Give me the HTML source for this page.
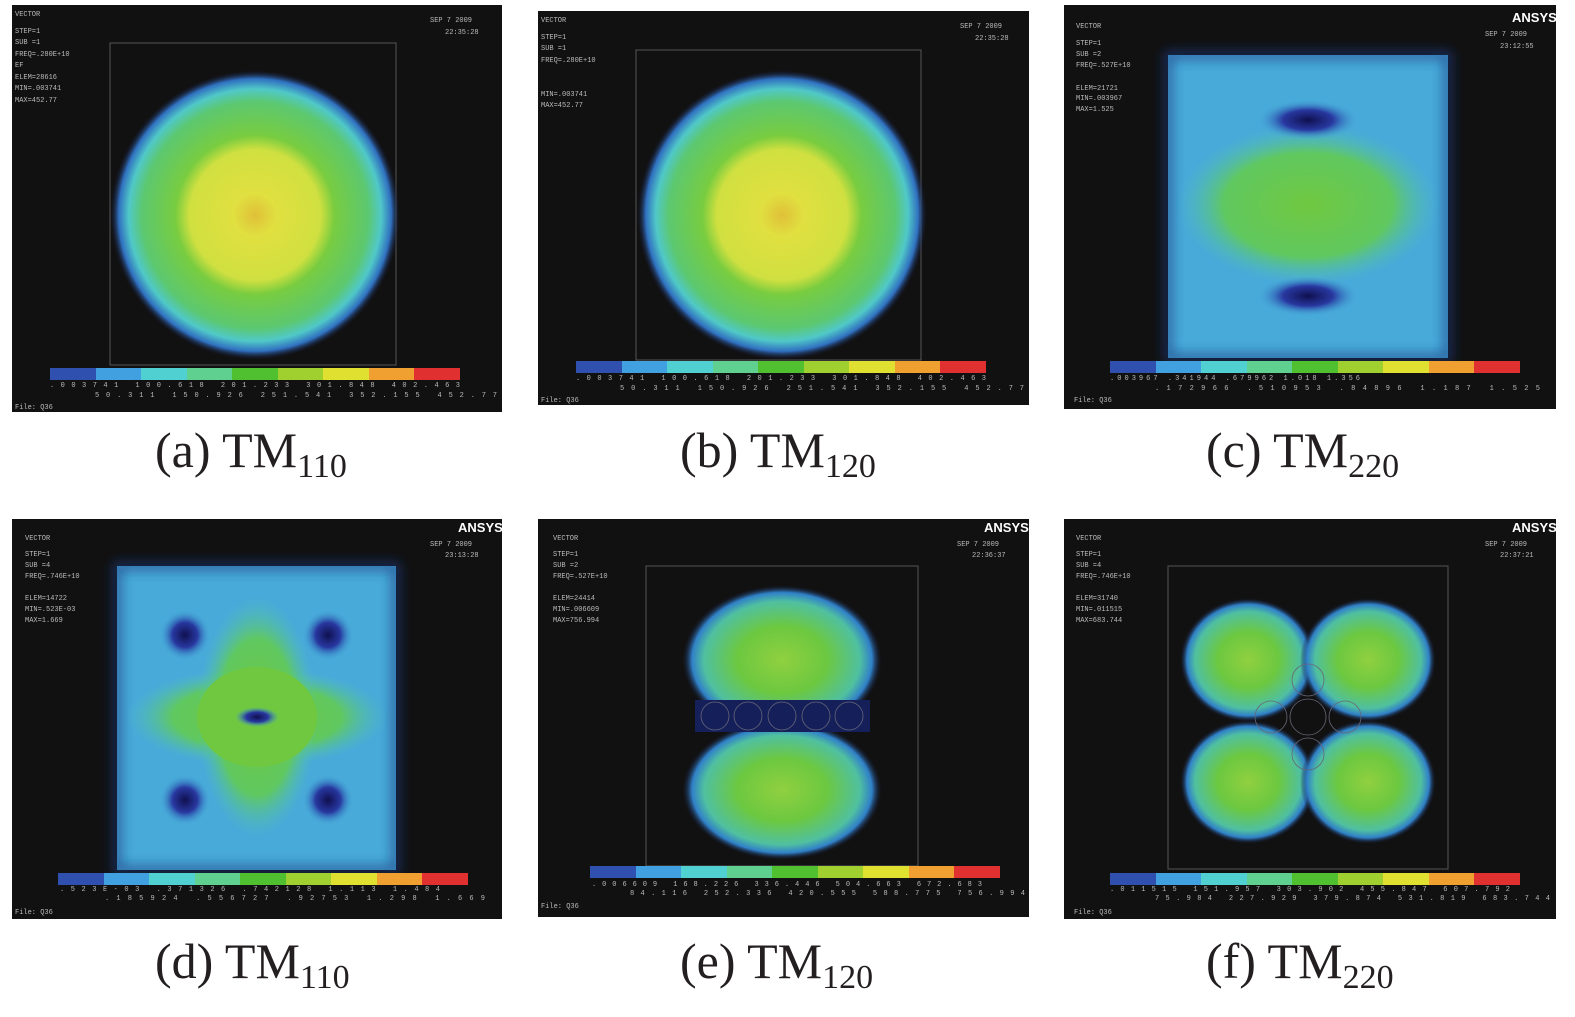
<!DOCTYPE html>
<html><head><meta charset="utf-8"><style>
html,body{margin:0;padding:0;background:#fff;}
svg{display:block}
.cap{font-family:"Liberation Serif",serif;font-size:50px;fill:#231f20}
.sub{font-size:34px}
.t{font-family:"Liberation Mono",monospace;font-size:7px;fill:#bbb}
</style></head><body>
<svg width="1575" height="1017" viewBox="0 0 1575 1017" xmlns="http://www.w3.org/2000/svg">
<defs>
<radialGradient id="disc">
<stop offset="0" stop-color="#e0c038"/>
<stop offset="0.15" stop-color="#e0e040"/>
<stop offset="0.45" stop-color="#d0e040"/>
<stop offset="0.55" stop-color="#78cc40"/>
<stop offset="0.78" stop-color="#5cc870"/>
<stop offset="0.87" stop-color="#50c8c8"/>
<stop offset="0.94" stop-color="#3070c0"/>
<stop offset="1" stop-color="#151530" stop-opacity="0"/>
</radialGradient>
<radialGradient id="blob">
<stop offset="0" stop-color="#90d040"/>
<stop offset="0.45" stop-color="#6cc840"/>
<stop offset="0.78" stop-color="#50c0a0"/>
<stop offset="0.9" stop-color="#3080c8"/>
<stop offset="1" stop-color="#151530" stop-opacity="0"/>
</radialGradient>
<radialGradient id="dark">
<stop offset="0" stop-color="#101050"/>
<stop offset="0.5" stop-color="#2838a0"/>
<stop offset="1" stop-color="#40a0d8" stop-opacity="0"/>
</radialGradient>
<radialGradient id="green">
<stop offset="0" stop-color="#70c840"/>
<stop offset="0.65" stop-color="#60c860"/>
<stop offset="1" stop-color="#50c0c0" stop-opacity="0"/>
</radialGradient>
<filter id="b4"><feGaussianBlur stdDeviation="6"/></filter>
<g id="cbar">
<rect x="0" y="0" width="46" height="12" fill="#3050b0"/>
<rect x="46" y="0" width="45" height="12" fill="#40a0e0"/>
<rect x="91" y="0" width="46" height="12" fill="#50d0d0"/>
<rect x="137" y="0" width="45" height="12" fill="#60d090"/>
<rect x="182" y="0" width="46" height="12" fill="#50c030"/>
<rect x="228" y="0" width="45" height="12" fill="#a0d030"/>
<rect x="273" y="0" width="46" height="12" fill="#e0e030"/>
<rect x="319" y="0" width="45" height="12" fill="#f0a030"/>
<rect x="364" y="0" width="46" height="12" fill="#e03030"/>
</g>
</defs>

<!-- (a) -->
<rect x="12" y="5" width="490" height="407" fill="#111"/>
<rect x="110" y="43" width="286" height="322" fill="none" stroke="#555"/>
<circle cx="255" cy="215" r="145" fill="url(#disc)"/>
<use href="#cbar" x="50" y="368"/>
<text class="t" x="15" y="16">VECTOR</text><text class="t" x="15" y="33">STEP=1</text><text class="t" x="15" y="44">SUB =1</text><text class="t" x="15" y="56">FREQ=.280E+10</text><text class="t" x="15" y="67">EF</text><text class="t" x="15" y="79">ELEM=28616</text><text class="t" x="15" y="90">MIN=.003741</text><text class="t" x="15" y="102">MAX=452.77</text>
<text class="t" x="430" y="22">SEP  7 2009</text><text class="t" x="445" y="34">22:35:28</text>
<text class="t" x="50" y="387" textLength="410">.003741   100.618   201.233   301.848   402.463</text>
<text class="t" x="95" y="397" textLength="402">50.311   150.926   251.541   352.155     452.77</text>
<text class="t" x="15" y="409">File: Q36</text>

<!-- (b) -->
<rect x="538" y="11" width="491" height="394" fill="#111"/>
<rect x="636" y="50" width="285" height="310" fill="none" stroke="#555"/>
<circle cx="782" cy="215" r="145" fill="url(#disc)"/>
<use href="#cbar" x="576" y="361"/>
<text class="t" x="541" y="22">VECTOR</text><text class="t" x="541" y="39">STEP=1</text><text class="t" x="541" y="50">SUB =1</text><text class="t" x="541" y="62">FREQ=.280E+10</text><text class="t" x="541" y="96">MIN=.003741</text><text class="t" x="541" y="107">MAX=452.77</text>
<text class="t" x="960" y="28">SEP  7 2009</text><text class="t" x="975" y="40">22:35:28</text>
<text class="t" x="576" y="380" textLength="410">.003741   100.618   201.233   301.848   402.463</text>
<text class="t" x="620" y="390" textLength="404">50.311   150.926   251.541   352.155     452.77</text>
<text class="t" x="541" y="402">File: Q36</text>

<!-- (c) -->
<rect x="1064" y="5" width="492" height="404" fill="#111"/>
<rect x="1168" y="55" width="280" height="303" fill="#48aad8"/>
<rect x="1168" y="55" width="280" height="303" fill="none" stroke="#1a3a80" stroke-width="6" filter="url(#b4)"/>
<ellipse cx="1308" cy="205" rx="130" ry="80" fill="url(#green)"/>
<ellipse cx="1308" cy="120" rx="50" ry="20" fill="url(#dark)"/>
<ellipse cx="1308" cy="296" rx="50" ry="20" fill="url(#dark)"/>
<use href="#cbar" x="1110" y="361"/>
<text class="t" x="1076" y="28">VECTOR</text><text class="t" x="1076" y="45">STEP=1</text><text class="t" x="1076" y="56">SUB =2</text><text class="t" x="1076" y="67">FREQ=.527E+10</text><text class="t" x="1076" y="90">ELEM=21721</text><text class="t" x="1076" y="100">MIN=.003967</text><text class="t" x="1076" y="111">MAX=1.525</text>
<text x="1512" y="22" font-family="Liberation Sans" font-weight="bold" font-size="13" fill="#fff">ANSYS</text>
<text class="t" x="1485" y="36">SEP  7 2009</text><text class="t" x="1500" y="48">23:12:55</text>
<text class="t" x="1110" y="380" textLength="250">.003967  .341944  .679962  1.018  1.356</text>
<text class="t" x="1155" y="390" textLength="385">.172966  .510953  .84896  1.187     1.525</text>
<text class="t" x="1074" y="402">File: Q36</text>

<!-- (d) -->
<rect x="12" y="519" width="490" height="400" fill="#111"/>
<rect x="117" y="566" width="279" height="304" fill="#48aad8"/>
<rect x="117" y="566" width="279" height="304" fill="none" stroke="#1a3a80" stroke-width="6" filter="url(#b4)"/>
<ellipse cx="257" cy="717" rx="130" ry="50" fill="url(#green)"/>
<ellipse cx="257" cy="717" rx="60" ry="120" fill="url(#green)"/>
<ellipse cx="257" cy="717" rx="60" ry="50" fill="#70c840"/>
<circle cx="185" cy="635" r="25" fill="url(#dark)"/>
<circle cx="328" cy="635" r="25" fill="url(#dark)"/>
<circle cx="185" cy="800" r="25" fill="url(#dark)"/>
<circle cx="328" cy="800" r="25" fill="url(#dark)"/>
<ellipse cx="257" cy="717" rx="22" ry="10" fill="url(#dark)"/>
<use href="#cbar" x="58" y="873"/>
<text class="t" x="25" y="540">VECTOR</text><text class="t" x="25" y="556">STEP=1</text><text class="t" x="25" y="567">SUB =4</text><text class="t" x="25" y="578">FREQ=.746E+10</text><text class="t" x="25" y="600">ELEM=14722</text><text class="t" x="25" y="611">MIN=.523E-03</text><text class="t" x="25" y="622">MAX=1.669</text>
<text x="458" y="532" font-family="Liberation Sans" font-weight="bold" font-size="13" fill="#fff">ANSYS</text>
<text class="t" x="430" y="546">SEP  7 2009</text><text class="t" x="445" y="557">23:13:28</text>
<text class="t" x="60" y="891" textLength="380">.523E-03   .371326   .742128   1.113   1.484</text>
<text class="t" x="105" y="900" textLength="380">.185924   .556727   .92753   1.298     1.669</text>
<text class="t" x="15" y="914">File: Q36</text>

<!-- (e) -->
<rect x="538" y="519" width="491" height="398" fill="#111"/>
<rect x="646" y="566" width="272" height="300" fill="none" stroke="#555"/>
<ellipse cx="782" cy="660" rx="100" ry="75" fill="url(#blob)"/>
<ellipse cx="782" cy="790" rx="100" ry="70" fill="url(#blob)"/>
<rect x="695" y="700" width="175" height="32" fill="#15205a"/>
<g fill="none" stroke="#667" stroke-width="0.8">
<circle cx="715" cy="716" r="14"/><circle cx="748" cy="716" r="14"/><circle cx="782" cy="716" r="14"/><circle cx="816" cy="716" r="14"/><circle cx="849" cy="716" r="14"/>
</g>
<use href="#cbar" x="590" y="866"/>
<text class="t" x="553" y="540">VECTOR</text><text class="t" x="553" y="556">STEP=1</text><text class="t" x="553" y="567">SUB =2</text><text class="t" x="553" y="578">FREQ=.527E+10</text><text class="t" x="553" y="600">ELEM=24414</text><text class="t" x="553" y="611">MIN=.006609</text><text class="t" x="553" y="622">MAX=756.994</text>
<text x="984" y="532" font-family="Liberation Sans" font-weight="bold" font-size="13" fill="#fff">ANSYS</text>
<text class="t" x="957" y="546">SEP  7 2009</text><text class="t" x="972" y="557">22:36:37</text>
<text class="t" x="592" y="886" textLength="390">.006609   168.226   336.446   504.663   672.683</text>
<text class="t" x="630" y="895" textLength="395">84.116   252.336   420.555   588.775     756.994</text>
<text class="t" x="541" y="908">File: Q36</text>

<!-- (f) -->
<rect x="1064" y="519" width="492" height="400" fill="#111"/>
<rect x="1168" y="566" width="280" height="303" fill="none" stroke="#555"/>
<ellipse cx="1248" cy="660" rx="68" ry="62" fill="url(#blob)"/>
<ellipse cx="1368" cy="660" rx="68" ry="62" fill="url(#blob)"/>
<ellipse cx="1248" cy="782" rx="68" ry="62" fill="url(#blob)"/>
<ellipse cx="1368" cy="782" rx="68" ry="62" fill="url(#blob)"/>
<g fill="none" stroke="#667" stroke-width="0.8">
<circle cx="1308" cy="717" r="18"/><circle cx="1308" cy="680" r="16"/><circle cx="1308" cy="754" r="16"/><circle cx="1271" cy="717" r="16"/><circle cx="1345" cy="717" r="16"/>
</g>
<use href="#cbar" x="1110" y="873"/>
<text class="t" x="1076" y="540">VECTOR</text><text class="t" x="1076" y="556">STEP=1</text><text class="t" x="1076" y="567">SUB =4</text><text class="t" x="1076" y="578">FREQ=.746E+10</text><text class="t" x="1076" y="600">ELEM=31740</text><text class="t" x="1076" y="611">MIN=.011515</text><text class="t" x="1076" y="622">MAX=683.744</text>
<text x="1512" y="532" font-family="Liberation Sans" font-weight="bold" font-size="13" fill="#fff">ANSYS</text>
<text class="t" x="1485" y="546">SEP  7 2009</text><text class="t" x="1500" y="557">22:37:21</text>
<text class="t" x="1110" y="891" textLength="400">.011515   151.957   303.902   455.847   607.792</text>
<text class="t" x="1155" y="900" textLength="395">75.984   227.929   379.874   531.819     683.744</text>
<text class="t" x="1074" y="914">File: Q36</text>

<!-- captions -->
<text class="cap" x="155" y="467">(a) TM<tspan class="sub" dy="10">110</tspan></text>
<text class="cap" x="680" y="467">(b) TM<tspan class="sub" dy="10">120</tspan></text>
<text class="cap" x="1206" y="467">(c) TM<tspan class="sub" dy="10">220</tspan></text>
<text class="cap" x="155" y="978">(d) TM<tspan class="sub" dy="10">110</tspan></text>
<text class="cap" x="680" y="978">(e) TM<tspan class="sub" dy="10">120</tspan></text>
<text class="cap" x="1206" y="978">(f) TM<tspan class="sub" dy="10">220</tspan></text>
</svg>
</body></html>
